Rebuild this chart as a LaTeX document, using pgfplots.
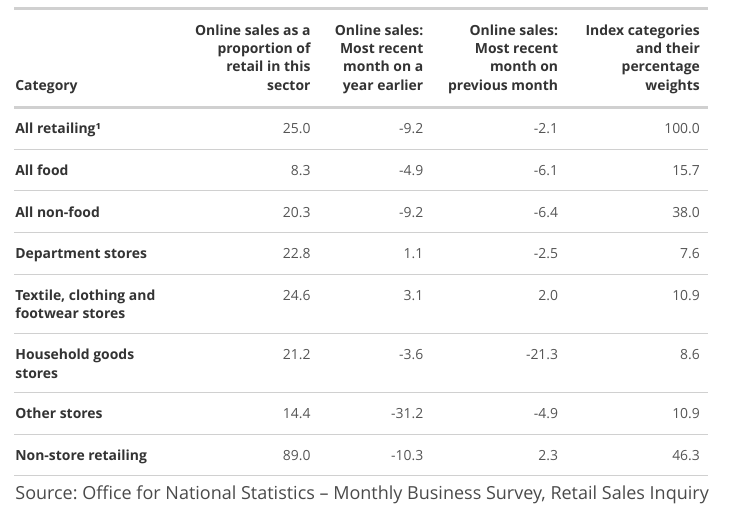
\documentclass[border=0pt]{standalone}
\usepackage{pgfplots}
\pgfplotsset{compat=1.18}
\usepackage{pgfplotstable}
\usepackage{fontspec}
\setmainfont{Open Sans}
\frenchspacing
\definecolor{headtext}{HTML}{333333}
\definecolor{valtext}{HTML}{555555}
\definecolor{srctext}{HTML}{4A4A4A}
\definecolor{rulegray}{HTML}{D0D0D0}

% baseline y (pixels from top) and the four value columns
\pgfplotstableread{
y    c1    c2     c3     c4
133  25.0  -9.2   -2.1   100.0
175  8.3   -4.9   -6.1   15.7
217  20.3  -9.2   -6.4   38.0
258  22.8  1.1    -2.5   7.6
300  24.6  3.1    2.0    10.9
360  21.2  -3.6   -21.3  8.6
419  14.4  -31.2  -4.9   10.9
461  89.0  -10.3  2.3    46.3
}\datatable

\newcommand{\valfont}{\fontsize{14}{17}\selectfont}
\newcommand{\headfont}{\fontsize{14}{18.5}\selectfont\bfseries}

\begin{document}
\begin{tikzpicture}
\begin{axis}[
  scale only axis, width=731bp, height=509bp,
  xmin=0, xmax=731, ymin=0, ymax=509, y dir=reverse,
  axis lines=none, ticks=none, clip=false,
  nodes near coords={\pgfplotspointmeta},
  point meta=explicit symbolic,
  nodes near coords style={anchor=base east, inner sep=0pt, font=\valfont, text=valtext},
]
% invisible frame for bounding box
\addplot[draw=none, forget plot] coordinates {(0,0) (731,509)};

% rules
\addplot[rulegray, line width=3bp, nodes near coords=] coordinates {(13,8) (708,8)};
\addplot[rulegray, line width=3bp, nodes near coords=] coordinates {(13,107) (708,107)};
\addplot[rulegray, line width=1bp, nodes near coords=] coordinates {(13,149) (708,149)};
\addplot[rulegray, line width=1bp, nodes near coords=] coordinates {(13,190.5) (708,190.5)};
\addplot[rulegray, line width=1bp, nodes near coords=] coordinates {(13,232) (708,232)};
\addplot[rulegray, line width=1bp, nodes near coords=] coordinates {(13,274) (708,274)};
\addplot[rulegray, line width=1bp, nodes near coords=] coordinates {(13,334) (708,334)};
\addplot[rulegray, line width=1bp, nodes near coords=] coordinates {(13,393) (708,393)};
\addplot[rulegray, line width=1bp, nodes near coords=] coordinates {(13,435) (708,435)};
\addplot[rulegray, line width=1bp, nodes near coords=] coordinates {(13,476) (708,476)};

% values
\addplot[only marks, mark=none] table[x expr=310, y=y, meta=c1] {\datatable};
\addplot[only marks, mark=none] table[x expr=423, y=y, meta=c2] {\datatable};
\addplot[only marks, mark=none] table[x expr=558, y=y, meta=c3] {\datatable};
\addplot[only marks, mark=none] table[x expr=700, y=y, meta=c4] {\datatable};

% header
\node[anchor=base west, inner sep=0pt, font=\headfont, text=headtext] at (axis cs:14,90) {Category};
\node[anchor=base east, inner sep=0pt, align=right, font=\headfont, text=headtext] at (axis cs:310,90) {Online sales as a\\proportion of\\retail in this\\sector};
\node[anchor=base east, inner sep=0pt, align=right, font=\headfont, text=headtext] at (axis cs:423,90) {Online sales:\\Most recent\\month on a\\year earlier};
\node[anchor=base east, inner sep=0pt, align=right, font=\headfont, text=headtext] at (axis cs:558,90) {Online sales:\\Most recent\\month on\\previous month};
\node[anchor=base east, inner sep=0pt, align=right, font=\headfont, text=headtext] at (axis cs:700,90) {Index categories\\and their\\percentage\\weights};

% categories
\node[anchor=base west, inner sep=0pt, font=\headfont, text=headtext] at (axis cs:14,133) {All retailing¹};
\node[anchor=base west, inner sep=0pt, font=\headfont, text=headtext] at (axis cs:14,175) {All food};
\node[anchor=base west, inner sep=0pt, font=\headfont, text=headtext] at (axis cs:14,217) {All non-food};
\node[anchor=base west, inner sep=0pt, font=\headfont, text=headtext] at (axis cs:14,258) {Department stores};
\node[anchor=base west, inner sep=0pt, align=left, font=\headfont, text=headtext] at (axis cs:14,318.5) {Textile, clothing and\\footwear stores};
\node[anchor=base west, inner sep=0pt, align=left, font=\headfont, text=headtext] at (axis cs:14,378.5) {Household goods\\stores};
\node[anchor=base west, inner sep=0pt, font=\headfont, text=headtext] at (axis cs:14,419) {Other stores};
\node[anchor=base west, inner sep=0pt, font=\headfont, text=headtext] at (axis cs:14,461) {Non-store retailing};

% source
\node[anchor=base west, inner sep=0pt, font=\fontsize{18.1}{22}\selectfont, text=srctext] at (axis cs:14,499.5) {Source: Office for National Statistics – Monthly Business Survey, Retail Sales Inquiry};
\end{axis}
\end{tikzpicture}
\end{document}
